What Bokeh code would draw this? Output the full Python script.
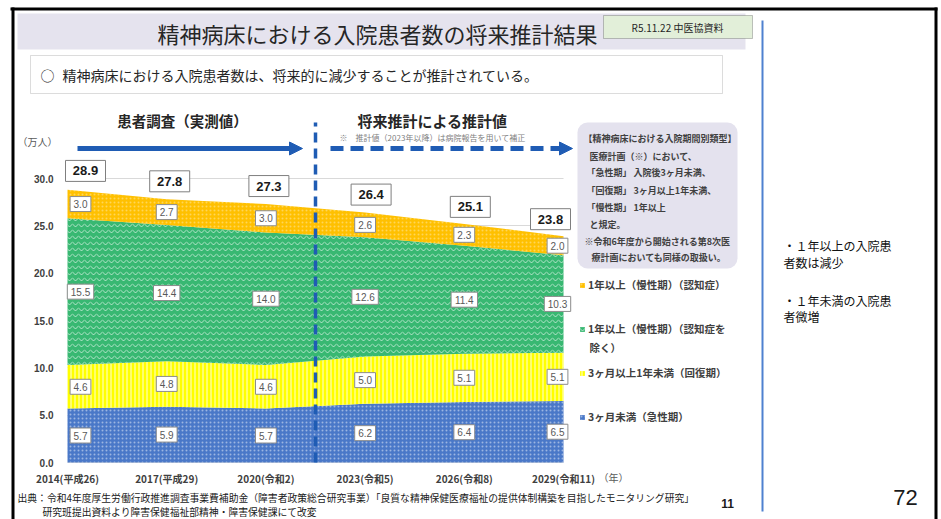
from bokeh.plotting import figure
from bokeh.models import (ColumnDataSource, Label, BoxAnnotation, Arrow, NormalHead,
                          Legend, LegendItem, FixedTicker, NumeralTickFormatter, Range1d, Grid)
from bokeh.core.properties import value
from bokeh.embed import file_html
from bokeh.resources import INLINE

# ---------------- data ----------------
years = [2014, 2017, 2020, 2023, 2026, 2029]
year_labels = ["2014(平成26)", "2017(平成29)", "2020(令和2)", "2023(令和5)", "2026(令和8)", "2029(令和11)"]
acute = [5.7, 5.9, 5.7, 6.2, 6.4, 6.5]                 # 3ヶ月未満（急性期）
recovery = [4.6, 4.8, 4.6, 5.0, 5.1, 5.1]              # 3ヶ月以上1年未満（回復期）
chronic_other = [15.5, 14.4, 14.0, 12.6, 11.4, 10.3]   # 1年以上（慢性期）（認知症を除く）
chronic_dementia = [3.0, 2.7, 3.0, 2.6, 2.3, 2.0]      # 1年以上（慢性期）（認知症）
totals = [28.9, 27.8, 27.3, 26.4, 25.1, 23.8]
y_ticks = [0, 5, 10, 15, 20, 25, 30]
divider_year = 2021.5
legend_labels = ["1年以上（慢性期）（認知症）", "1年以上（慢性期）（認知症を", "3ヶ月以上1年未満（回復期）", "3ヶ月未満（急性期）"]

# ---------------- layout constants (page px; the Bokeh page has no body margin) ----------------
W, H = 941, 519
X_LEFT_PX, X_RIGHT_PX = 67.0, 563.0        # px of first / last year
Y_ZERO_PX, Y_30_PX = 462.0, 178.0          # px of value 0 / 30
PPX = (X_RIGHT_PX - X_LEFT_PX) / (years[-1] - years[0])
PPY = (Y_ZERO_PX - Y_30_PX) / 30.0
XS = years[0] - X_LEFT_PX / PPX
XE = XS + W / PPX
YS = -(H - Y_ZERO_PX) / PPY
YE = YS + H / PPY

def dx(px):
    return XS + px / PPX

def dy(py):
    return YS + (H - py) / PPY

JP = "Noto Sans CJK JP"
BLUE = "#1f5cb4"

p = figure(width=W, height=H, output_backend="svg", toolbar_location=None, title=None,
           x_range=Range1d(XS, XE), y_range=Range1d(YS, YE),
           min_border=0, min_border_left=0, min_border_right=0, min_border_top=0, min_border_bottom=0)
p.outline_line_color = None
p.background_fill_color = "white"
p.border_fill_color = "white"

# axes drawn at fixed data locations inside the frame
p.yaxis.fixed_location = years[0]
p.xaxis.fixed_location = 0
p.yaxis.ticker = FixedTicker(ticks=y_ticks)
p.yaxis.formatter = NumeralTickFormatter(format="0.0")
p.xaxis.ticker = FixedTicker(ticks=years)
p.xaxis.major_label_overrides = {y: l for y, l in zip(years, year_labels)}
for ax in (p.xaxis, p.yaxis):
    ax.axis_line_color = None
    ax.major_tick_line_color = None
    ax.minor_tick_line_color = None
    ax.major_tick_out = 0
    ax.major_tick_in = 0
    ax.minor_tick_out = 0
    ax.major_label_text_font_size = "10px"
    ax.major_label_text_font_style = "bold"
    ax.major_label_text_color = "#404040"
p.xaxis.major_label_text_font = JP
p.yaxis.major_label_text_font = "Liberation Sans"
p.xaxis.major_label_standoff = 8
p.yaxis.major_label_standoff = 14

# grid lines only across the chart
p.xgrid.visible = False
if "cross_bounds" in Grid.properties():
    p.ygrid.ticker = FixedTicker(ticks=y_ticks)
    p.ygrid.cross_bounds = (years[0], years[-1])
    p.ygrid.grid_line_color = "#d9d9d9"
else:
    p.ygrid.visible = False
    p.segment(x0=[years[0]] * len(y_ticks), x1=[years[-1]] * len(y_ticks), y0=y_ticks, y1=y_ticks,
              line_color="#d9d9d9", line_width=1)

# stacked areas
src = ColumnDataSource(dict(year=years, acute=acute, recovery=recovery,
                            chronic_other=chronic_other, chronic_dementia=chronic_dementia))
rs = p.varea_stack(["acute", "recovery", "chronic_other", "chronic_dementia"], x="year", source=src,
                   fill_color=["#4a78c8", "#ffff00", "#38b872", "#ffc000"],
                   hatch_pattern=["dot", "vertical_line", "horizontal_wave", "dot"],
                   hatch_color="white", hatch_alpha=[0.45, 0.85, 0.6, 0.35],
                   hatch_scale=[4, 4, 6, 4], hatch_weight=[1, 1, 1, 1])

# segment labels (boxes + text)
layers = [acute, recovery, chronic_other, chronic_dementia]
edge_off = [13, 0, 0, 0, 0, -6]
seg = dict(x=[], y=[], t=[], w=[])
base = [0.0] * len(years)
for layer in layers:
    for i in range(len(years)):
        t = f"{layer[i]:.1f}"
        seg["x"].append(years[i] + edge_off[i] / PPX)
        seg["y"].append(base[i] + layer[i] / 2)
        seg["t"].append(t)
        seg["w"].append(5.6 * len(t) + 4)
    base = [b + v for b, v in zip(base, layer)]
seg_src = ColumnDataSource(seg)
p.rect(x="x", y="y", width="w", height=15, width_units="screen", height_units="screen",
       source=seg_src, fill_color="white", line_color="#8c8c8c", line_width=1)
p.text(x="x", y="y", text="t", source=seg_src, text_align="center", text_baseline="middle",
       text_font=value("Liberation Sans"), text_font_size="10px", text_color="#595959")

# total labels
tot_off = [18, 3, 3, 6, 6, -13]
tot = dict(x=[years[i] + tot_off[i] / PPX for i in range(len(years))],
           y=[totals[i] + 18 / PPY for i in range(len(years))],
           t=[f"{v:.1f}" for v in totals])
tot_src = ColumnDataSource(tot)
p.rect(x="x", y="y", width=40, height=21, width_units="screen", height_units="screen",
       source=tot_src, fill_color="white", line_color="#7f7f7f", line_width=1)
p.text(x="x", y="y", text="t", source=tot_src, text_align="center", text_baseline="middle",
       text_font=value("Liberation Sans"), text_font_size="13px", text_font_style="bold",
       text_color="#1a1a1a")

# ---------------- decorations ----------------
def box(l, t, r, b, **k):
    bx = BoxAnnotation(left=dx(l), right=dx(r), top=dy(t), bottom=dy(b), **k)
    p.add_layout(bx)
    return bx

def lab(x, y, text, size, color="#262626", align="left", style="normal", font=JP):
    p.add_layout(Label(x=dx(x), y=dy(y), text=text, text_font=font, text_font_size=f"{size}px",
                       text_color=color, text_align=align, text_baseline="middle", text_font_style=style))

# slide border (top / left / right) and separator
box(10, 7, 937, 10, fill_color="black", fill_alpha=1, line_color=None)
box(11, 7, 14, 519, fill_color="black", fill_alpha=1, line_color=None)
box(934, 7, 937, 519, fill_color="black", fill_alpha=1, line_color=None)
box(761, 20, 763, 511, fill_color="#4f81d0", fill_alpha=1, line_color=None)

# title band
box(17, 13, 745, 49, fill_color="#e5e3ee", fill_alpha=1, line_color=None)
lab(377, 32, "精神病床における入院患者数の将来推計結果", 22, align="center")
box(603, 15, 752, 38, fill_color="#e2efd9", fill_alpha=1, line_color="#3f3f3f", line_width=1)
lab(677, 27, "R5.11.22 中医協資料", 10, align="center")

# subtitle
box(30, 55, 722, 93, fill_color="white", fill_alpha=1, line_color="#8c8c8c", line_width=1)
lab(40, 74, "○", 14)
lab(62, 74, "精神病床における入院患者数は、将来的に減少することが推計されている。", 14)

# headers + arrows
lab(182, 120, "患者調査（実測値）", 14.5, align="center", style="bold")
lab(432, 120, "将来推計による推計値", 15, align="center", style="bold")
lab(432, 137, "※　推計値（2023年以降）は病院報告を用いて補正", 8, color="#808080", align="center")
p.add_layout(Arrow(x_start=dx(77), y_start=dy(148), x_end=dx(302), y_end=dy(148),
                   line_color=BLUE, line_width=5,
                   end=NormalHead(size=13, fill_color=BLUE, line_color=BLUE, line_width=1)))
p.add_layout(Arrow(x_start=dx(330), y_start=dy(148), x_end=dx(572), y_end=dy(148),
                   line_color=BLUE, line_width=5, line_dash="13 7",
                   end=NormalHead(size=13, fill_color=BLUE, line_color=BLUE, line_width=1)))
p.add_layout(Arrow(x_start=divider_year, y_start=0, x_end=divider_year, y_end=dy(122),
                   line_color=BLUE, line_width=3.5, line_dash="10 6", end=None))

lab(37, 141, "（万人）", 10, color="#595959", align="center")
lab(598, 477, "（年）", 10, color="#595959", align="left")

# note box
nb = dict(fill_color="#e4e2ee", fill_alpha=1, line_color=None)
if "border_radius" in BoxAnnotation.properties():
    nb["border_radius"] = 10
box(577, 122, 737, 268, **nb)
note = [
    (583, 138, "【精神病床における入院期間別類型】"),
    (589, 156, "医療計画（※）において、"),
    (586, 172, "「急性期」 入院後3ヶ月未満、"),
    (586, 190, "「回復期」 3ヶ月以上1年未満、"),
    (586, 207, "「慢性期」 1年以上"),
    (589, 224, "と規定。"),
    (584, 241, "※令和6年度から開始される第8次医"),
    (591, 257, "療計画においても同様の取扱い。"),
]
for x, y, t in note:
    lab(x, y, t, 9, color="#404040", style="bold")

# legend
items = [LegendItem(label=legend_labels[0], renderers=[rs[3]]),
         LegendItem(label=legend_labels[1], renderers=[rs[2]]),
         LegendItem(label=legend_labels[2], renderers=[rs[1]]),
         LegendItem(label=legend_labels[3], renderers=[rs[0]])]
legend = Legend(items=items, location=(579, H - 424), glyph_width=6, glyph_height=6,
                label_height=14, label_standoff=3, spacing=29, padding=0, margin=0,
                border_line_color=None, background_fill_alpha=0, label_text_font=JP,
                label_text_font_size="10.5px", label_text_font_style="bold", label_text_color="#404040")
p.add_layout(legend)
lab(589, 347, "除く）", 10.5, color="#404040", style="bold")

# right column
lab(783, 245, "・１年以上の入院患", 12, color="#111111")
lab(783, 262, "者数は減少", 12, color="#111111")
lab(783, 300, "・１年未満の入院患", 12, color="#111111")
lab(783, 316, "者微増", 12, color="#111111")

# source
lab(17, 497, "出典：令和4年度厚生労働行政推進調査事業費補助金（障害者政策総合研究事業）「良質な精神保健医療福祉の提供体制構築を目指したモニタリング研究」",
    9.8, color="#1a1a1a")
lab(42, 511, "研究班提出資料より障害保健福祉部精神・障害保健課にて改変", 9.8, color="#1a1a1a")
lab(727, 503, "11", 12, color="#1a1a1a", align="center", style="bold", font="Liberation Sans")
lab(905, 497, "72", 22, color="#1a1a1a", align="center", font="Liberation Sans")

open("out.html", "w", encoding="utf-8").write(file_html(p, INLINE))
